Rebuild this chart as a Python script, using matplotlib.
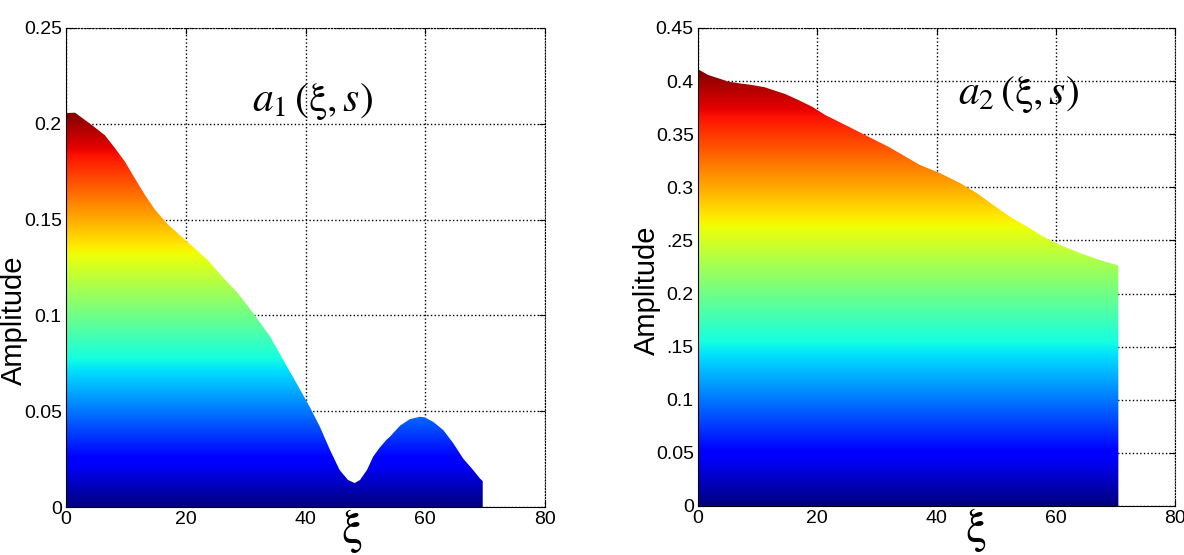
import numpy as np
import matplotlib
matplotlib.use("Agg")
import matplotlib.pyplot as plt
from matplotlib.patches import Polygon

plt.rcParams['font.family'] = ['Liberation Sans', 'DejaVu Sans']
plt.rcParams['mathtext.fontset'] = 'custom'
plt.rcParams['mathtext.rm'] = 'STIXGeneral'
plt.rcParams['mathtext.it'] = 'STIXGeneral:italic'
plt.rcParams['mathtext.bf'] = 'STIXGeneral:bold'

# ---- data ----
xi1 = [0, 1.5, 4.3, 6.5, 8.2, 9.85, 11.5, 13.2, 14.9, 17.1, 19.3, 21.5, 23.8, 26.0,
       28.6, 31.3, 34.1, 36.3, 38.5, 40.7, 42.4, 44.1, 45.7, 47.1, 48.2, 49.1,
       50.3, 51.3, 52.4, 53.5, 54.1, 55.8, 57.4, 59.1, 59.9, 61.3, 63.0, 64.7,
       66.3, 68.0, 69.1, 69.6]
a1 = [0.2056, 0.2058, 0.1994, 0.194, 0.1872, 0.1802, 0.1715, 0.1628, 0.155, 0.1472,
      0.1411, 0.135, 0.1285, 0.1205, 0.112, 0.1011, 0.0889, 0.0767, 0.0646, 0.0523,
      0.0419, 0.0297, 0.0193, 0.0141, 0.0125, 0.0141, 0.0195, 0.0263, 0.0310,
      0.0350, 0.0367, 0.0425, 0.0458, 0.0471, 0.0468, 0.0445, 0.0402, 0.0332,
      0.0254, 0.0193, 0.015, 0.0135]

xi2 = [0, 1.7, 3.4, 5.1, 6.8, 9.0, 11.2, 12.9, 14.6, 16.8, 19.1, 21.3, 24.1, 26.9,
       29.1, 31.9, 34.2, 37.2, 40.6, 44.0, 46.8, 49.5, 52.3, 55.2, 57.9, 60.7,
       64.1, 67.4, 70.5]
a2 = [0.4112, 0.4058, 0.4027, 0.3995, 0.398, 0.3964, 0.3942, 0.391, 0.3879, 0.3823,
      0.376, 0.3682, 0.3604, 0.3525, 0.3462, 0.3383, 0.3309, 0.3211, 0.3133,
      0.3039, 0.2944, 0.2834, 0.2724, 0.263, 0.2536, 0.2458, 0.238, 0.2316, 0.2263]

yticks1 = [0, 0.05, 0.1, 0.15, 0.2, 0.25]
yticklabels1 = ['0', '0.05', '0.1', '0.15', '0.2', '0.25']
yticks2 = [0, 0.05, 0.1, 0.15, 0.2, 0.25, 0.3, 0.35, 0.4, 0.45]
yticklabels2 = ['0', '0.05', '0.1', '.15', '0.2', '.25', '0.3', '0.35', '0.4', '0.45']
xticks = [0, 20, 40, 60, 80]
titles = [r'$a_{\mathit{1}}\,(\mathrm{\xi},s)$', r'$a_{\mathrm{2}}\,(\mathrm{\xi},s)$']

fig = plt.figure(figsize=(11.84, 5.55), dpi=100)
ax1 = fig.add_axes([66 / 1184, 1 - 507 / 555, 479 / 1184, 479 / 555])
ax2 = fig.add_axes([698 / 1184, 1 - 506 / 555, 477 / 1184, 478 / 555])


def draw(ax, x, y, ymax, yticks, ylabels, title, tpos, lpos, xipos):
    x = np.asarray(x, float)
    y = np.asarray(y, float)
    top = y.max()
    grad = np.linspace(0, 1, 512).reshape(-1, 1)
    im = ax.imshow(grad, cmap='jet', origin='lower', aspect='auto',
                   extent=[x.min(), x.max(), 0, top], interpolation='bilinear',
                   zorder=2)
    verts = np.column_stack([np.r_[x[0], x, x[-1]], np.r_[0, y, 0]])
    poly = Polygon(verts, closed=True, facecolor='none', edgecolor='none',
                   transform=ax.transData)
    ax.add_patch(poly)
    im.set_clip_path(poly)
    ax.set_xlim(0, 80)
    ax.set_ylim(0, ymax)
    ax.set_xticks(xticks)
    ax.set_xticklabels([str(t) for t in xticks])
    ax.set_yticks(yticks)
    ax.set_yticklabels(ylabels)
    ax.grid(True, linestyle=':', color='black', linewidth=1.0, zorder=1)
    ax.set_axisbelow(True)
    ax.tick_params(direction='in', length=4, labelsize=14, top=True, right=True,
                   pad=3)
    for s in ['top', 'right']:
        ax.spines[s].set_linestyle(':')
    ax.set_ylabel('Amplitude', fontsize=21)
    ax.yaxis.set_label_coords(lpos[0], lpos[1])
    ax.text(tpos[0], tpos[1], title, transform=ax.transAxes, fontsize=30,
            ha='center', va='center')
    ax.text(xipos, 0.0, r'$\mathrm{\xi}$', transform=ax.transAxes, fontsize=34,
            ha='center', va='top')


draw(ax1, xi1, a1, 0.25, yticks1, yticklabels1, titles[0], (0.514, 0.846),
     (-0.079, 0.39), 0.597)
draw(ax2, xi2, a2, 0.45, yticks2, yticklabels2, titles[1], (0.671, 0.86),
     (-0.078, 0.452), 0.581)

fig.savefig('out.png', dpi=100)
